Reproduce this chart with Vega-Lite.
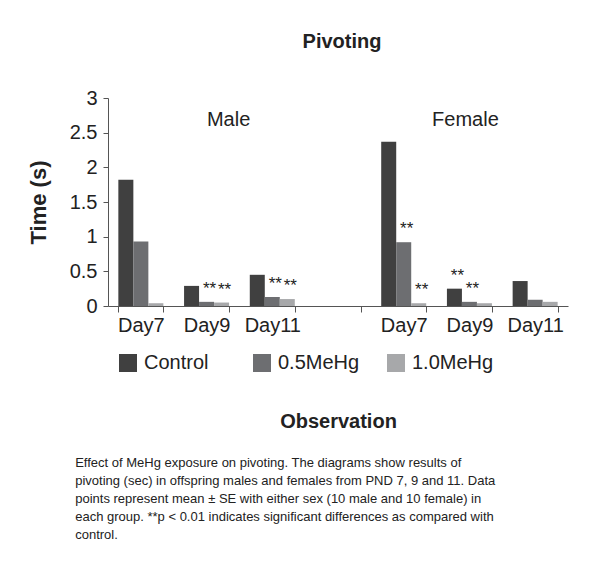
{
  "$schema": "https://vega.github.io/schema/vega-lite/v6.json",
  "padding": {"left": 27, "top": 32, "right": 5, "bottom": 5},
  "title": {
    "text": [
      "Effect of MeHg exposure on pivoting. The diagrams show results of",
      "pivoting (sec) in offspring males and females from PND 7, 9 and 11. Data",
      "points represent mean ± SE with either sex (10 male and 10 female) in",
      "each group. **p < 0.01 indicates significant differences as compared with",
      "control."
    ],
    "orient": "bottom",
    "anchor": "start",
    "fontSize": 13,
    "fontWeight": "normal",
    "lineHeight": 18,
    "dx": 48,
    "offset": 26,
    "color": "#222222"
  },
  "datasets": {
    "bars": [
      {"cat": "M-Day7", "group": "Control", "value": 1.82, "sig": false},
      {"cat": "M-Day7", "group": "0.5MeHg", "value": 0.93, "sig": false},
      {"cat": "M-Day7", "group": "1.0MeHg", "value": 0.04, "sig": false},
      {"cat": "M-Day9", "group": "Control", "value": 0.29, "sig": false},
      {"cat": "M-Day9", "group": "0.5MeHg", "value": 0.06, "sig": true},
      {"cat": "M-Day9", "group": "1.0MeHg", "value": 0.05, "sig": true},
      {"cat": "M-Day11", "group": "Control", "value": 0.45, "sig": false},
      {"cat": "M-Day11", "group": "0.5MeHg", "value": 0.13, "sig": true},
      {"cat": "M-Day11", "group": "1.0MeHg", "value": 0.1, "sig": true},
      {"cat": "F-Day7", "group": "Control", "value": 2.37, "sig": false},
      {"cat": "F-Day7", "group": "0.5MeHg", "value": 0.92, "sig": true},
      {"cat": "F-Day7", "group": "1.0MeHg", "value": 0.04, "sig": true},
      {"cat": "F-Day9", "group": "Control", "value": 0.25, "sig": true},
      {"cat": "F-Day9", "group": "0.5MeHg", "value": 0.06, "sig": true},
      {"cat": "F-Day9", "group": "1.0MeHg", "value": 0.04, "sig": false},
      {"cat": "F-Day11", "group": "Control", "value": 0.36, "sig": false},
      {"cat": "F-Day11", "group": "0.5MeHg", "value": 0.09, "sig": false},
      {"cat": "F-Day11", "group": "1.0MeHg", "value": 0.06, "sig": false}
    ]
  },
  "vconcat": [
    {
      "width": 460,
      "height": 208,
      "title": {"text": "Pivoting", "fontSize": 20, "fontWeight": "bold", "anchor": "middle", "offset": 36, "dx": 4, "color": "#222222"},
      "encoding": {
        "x": {
          "field": "cat",
          "type": "nominal",
          "scale": {
            "domain": ["M-Day7", "M-Day9", "M-Day11", "gap", "F-Day7", "F-Day9", "F-Day11"],
            "paddingInner": 0.315,
            "paddingOuter": 0.1575
          },
          "axis": {
            "labelExpr": "datum.value == 'gap' ? '' : split(datum.value, '-')[1]",
            "labelAngle": 0,
            "tickBand": "extent",
            "labelFontSize": 20,
            "tickSize": 6,
            "labelPadding": 3,
            "title": "Observation",
            "titleFontSize": 20,
            "titleFontWeight": "bold",
            "titlePadding": 76,
            "domainColor": "#555555",
            "tickColor": "#555555"
          }
        },
        "y": {
          "field": "value",
          "type": "quantitative",
          "scale": {"domain": [0, 3], "nice": false},
          "axis": {
            "values": [0, 0.5, 1, 1.5, 2, 2.5, 3],
            "format": "~g",
            "grid": false,
            "title": "Time (s)",
            "titleFontSize": 22,
            "titleFontWeight": "bold",
            "titlePadding": 19,
            "labelFontSize": 20,
            "tickSize": 5,
            "labelPadding": 6,
            "domainColor": "#555555",
            "tickColor": "#555555"
          }
        }
      },
      "layer": [
        {
          "data": {"name": "bars"},
          "mark": {"type": "bar"},
          "encoding": {
            "xOffset": {
              "field": "group",
              "type": "nominal",
              "scale": {"domain": ["Control", "0.5MeHg", "1.0MeHg"], "paddingInner": 0, "paddingOuter": 0}
            },
            "color": {
              "field": "group",
              "type": "nominal",
              "scale": {"domain": ["Control", "0.5MeHg", "1.0MeHg"], "range": ["#404040", "#6d6e71", "#a7a8aa"]},
              "legend": {
                "orient": "none",
                "legendX": 10,
                "legendY": 255,
                "direction": "horizontal",
                "columns": 3,
                "gridAlign": "all",
                "title": null,
                "symbolType": "square",
                "symbolSize": 324,
                "symbolStrokeWidth": 0,
                "symbolOpacity": 1,
                "labelFontSize": 20,
                "labelOffset": 6,
                "columnPadding": 26,
                "labelColor": "#222222"
              }
            }
          }
        },
        {
          "data": {"name": "bars"},
          "transform": [{"filter": "datum.sig"}],
          "mark": {"type": "text", "baseline": "bottom", "fontSize": 17, "dx": 3, "dy": -4, "color": "#222222"},
          "encoding": {
            "xOffset": {"field": "group", "type": "nominal"},
            "text": {"value": "**"}
          }
        },
        {
          "data": {"values": [{"cat": "M-Day9", "value": 2.68, "label": "Male"}]},
          "mark": {"type": "text", "fontSize": 20, "dx": 22, "baseline": "middle", "color": "#222222"},
          "encoding": {"text": {"field": "label"}}
        },
        {
          "data": {"values": [{"cat": "F-Day9", "value": 2.68, "label": "Female"}]},
          "mark": {"type": "text", "fontSize": 20, "dx": -4, "baseline": "middle", "color": "#222222"},
          "encoding": {"text": {"field": "label"}}
        }
      ]
    }
  ],
  "config": {
    "font": "Liberation Sans",
    "view": {"stroke": null},
    "axis": {"labelColor": "#222222", "titleColor": "#222222"}
  }
}
